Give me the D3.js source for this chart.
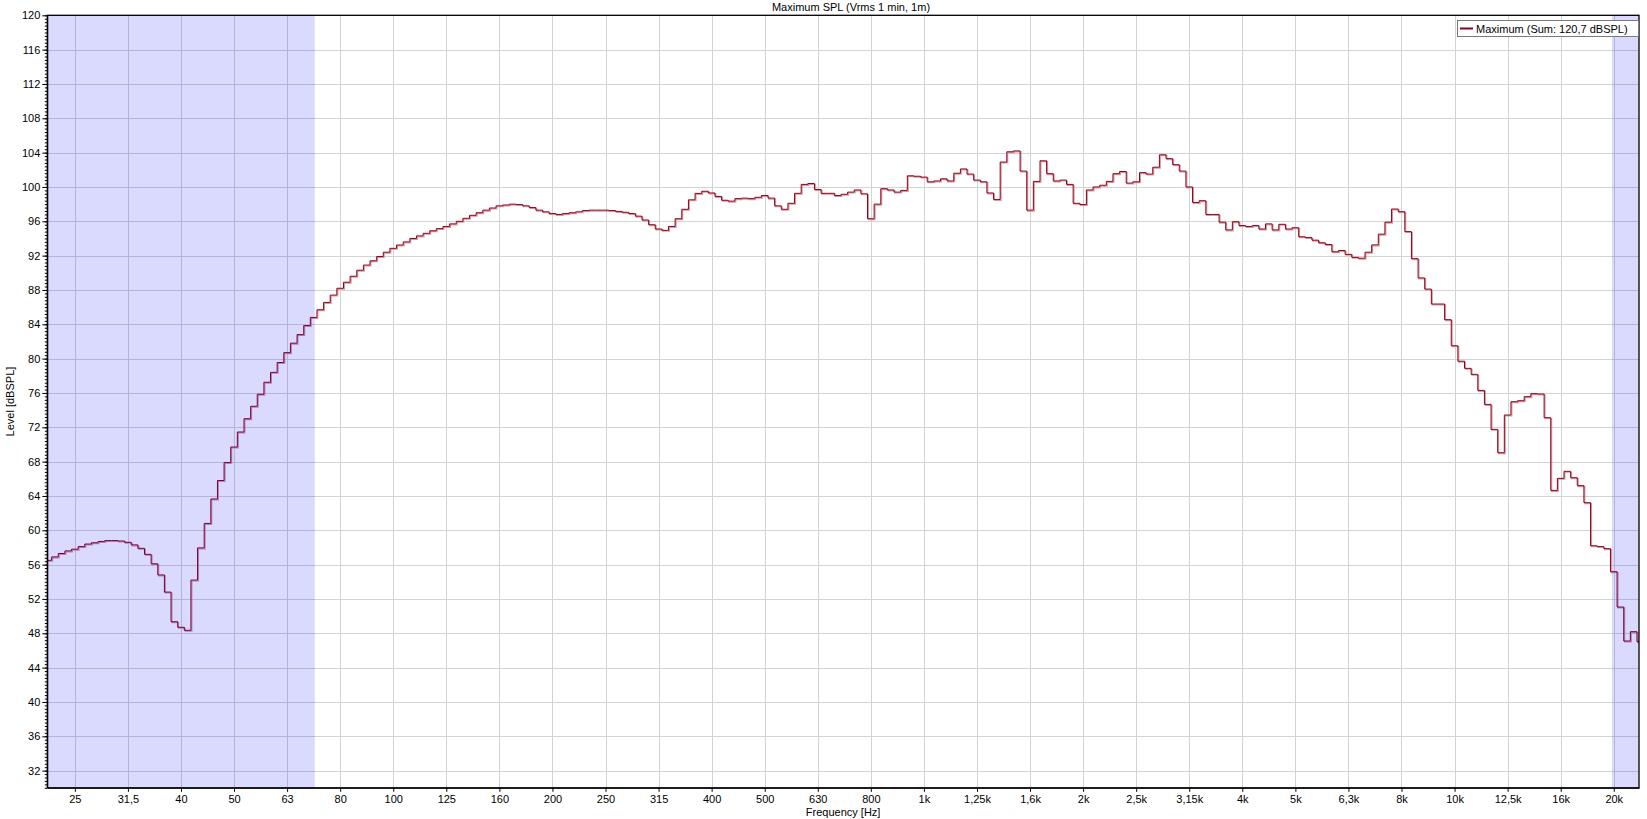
<!DOCTYPE html>
<html>
<meta charset="utf-8">
<head>
    <title>Maximum SPL</title>
    <script src="https://d3js.org/d3.v7.min.js" charset="utf-8"></script>
    <style>
    body { margin: 0; background: #fff; }
    text { font-family: "Liberation Sans", Arial, sans-serif; font-size: 11px; fill: #000; }
    </style>
</head>
<body>
    <script>

    // 1/24 octave bands, centre frequency = 1 kHz * 2^(n/24), n starts at firstBand
    var firstBand = -132;
    var bandsPerOctave = 24;

    // Maximum level per band [dBSPL]
    var levels = [
        56.5, 56.9, 57.3, 57.6, 57.8, 58.1, 58.4, 58.55, 58.7, 58.8, 58.8, 58.75,
        58.6, 58.3, 57.9, 57.2, 56.1, 54.8, 52.8, 49.35, 48.7, 48.35, 54.2, 57.95,
        60.8, 63.65, 65.8, 67.9, 69.7, 71.45, 73.0, 74.45, 75.85, 77.25, 78.4, 79.55,
        80.7, 81.8, 82.8, 83.85, 84.8, 85.7, 86.55, 87.4, 88.2, 88.9, 89.6, 90.3,
        90.9, 91.4, 91.9, 92.4, 92.85, 93.24, 93.6, 94.0, 94.3, 94.6, 94.9, 95.15,
        95.4, 95.7, 96.0, 96.35, 96.7, 97.0, 97.3, 97.55, 97.8, 97.9, 98.0, 97.95,
        97.8, 97.6, 97.3, 97.1, 96.9, 96.8, 96.9, 97.0, 97.1, 97.25, 97.3, 97.3,
        97.3, 97.25, 97.15, 97.05, 96.9, 96.6, 96.15, 95.6, 95.1, 94.95, 95.4, 96.3,
        97.4, 98.5, 99.25, 99.5, 99.3, 98.9, 98.45, 98.35, 98.64, 98.7, 98.64, 98.8,
        99.0, 98.7, 97.8, 97.4, 98.1, 99.26, 100.3, 100.4, 99.7, 99.26, 99.26, 99.0,
        99.15, 99.4, 99.65, 99.2, 96.3, 98.0, 99.8, 99.65, 99.4, 99.6, 101.3, 101.25,
        101.15, 100.6, 100.7, 100.95, 100.7, 101.6, 102.1, 101.5, 100.8, 100.6, 99.3, 98.55,
        102.9, 104.1, 104.2, 101.85, 97.3, 100.65, 103.05, 101.55, 100.7, 100.8, 100.3, 98.1,
        97.95, 99.65, 100.0, 100.2, 100.65, 101.55, 101.8, 100.45, 100.6, 101.67, 101.5, 102.3,
        103.75, 103.3, 102.6, 101.85, 100.0, 98.2, 98.4, 96.8, 96.8, 95.9, 95.0, 95.95,
        95.5, 95.4, 95.5, 95.1, 95.7, 95.0, 95.65, 95.1, 95.25, 94.2, 94.1, 93.8,
        93.5, 93.3, 92.45, 92.6, 92.15, 91.8, 91.7, 92.4, 93.25, 94.5, 95.9, 97.43,
        97.12, 94.8, 91.65, 89.4, 88.1, 86.36, 86.36, 84.54, 81.5, 79.7, 78.87, 78.17,
        76.3, 74.67, 71.76, 69.04, 73.43, 74.98, 75.1, 75.57, 75.92, 75.88, 73.12, 64.65,
        66.05, 66.87, 66.13, 65.2, 63.22, 58.2, 58.1, 57.86, 55.18, 51.06, 47.1, 48.19,
        47.02
    ];

    // x axis: third-octave ticks, index relative to 1 kHz
    var firstTick = -16;
    var xTickLabels = ["25", "31,5", "40", "50", "63", "80", "100", "125", "160", "200",
        "250", "315", "400", "500", "630", "800", "1k", "1,25k", "1,6k", "2k",
        "2,5k", "3,15k", "4k", "5k", "6,3k", "8k", "10k", "12,5k", "16k", "20k"];

    var yTickValues = [32, 36, 40, 44, 48, 52, 56, 60, 64, 68, 72, 76, 80, 84, 88,
        92, 96, 100, 104, 108, 112, 116, 120];

    // frequency ranges marked in blue
    var shadedRanges = [[22, 70.5], [20000, 22500]];

    var legendLabel = "Maximum (Sum: 120,7 dBSPL)";

    var width = 1647;
    var height = 819;
    var plotLeft = 47.3, plotRight = 1639, plotTop = 15.3, plotBottom = 787.8;

    var svg = d3.select("body")
        .append("svg")
        .attr("width", width)
        .attr("height", height);

    var x = d3.scaleLog()
        .domain([22, 22500])
        .range([plotLeft, plotRight]);

    var y = d3.scaleLinear()
        .domain([30, 120])
        .range([plotBottom, plotTop]);

    var tickFreqs = xTickLabels.map(function(d, i) {
        return 1000 * Math.pow(2, (firstTick + i) / 3);
    });

    // clip for plot area
    svg.append("clipPath").attr("id", "plot")
        .append("rect")
        .attr("x", plotLeft).attr("y", plotTop)
        .attr("width", plotRight - plotLeft).attr("height", plotBottom - plotTop);

    // grid
    var grid = svg.append("g").attr("stroke", "#d3d3d3").attr("stroke-width", 1);
    grid.selectAll(".vg")
        .data(tickFreqs)
        .enter().append("line")
        .attr("x1", function(d) { return Math.round(x(d)) + 0.5; })
        .attr("x2", function(d) { return Math.round(x(d)) + 0.5; })
        .attr("y1", plotTop).attr("y2", plotBottom);
    grid.selectAll(".hg")
        .data(yTickValues)
        .enter().append("line")
        .attr("x1", plotLeft).attr("x2", plotRight)
        .attr("y1", function(d) { return Math.round(y(d)) + 0.5; })
        .attr("y2", function(d) { return Math.round(y(d)) + 0.5; });

    // step curve built from band edges
    var points = levels.map(function(v, i) {
        var fc = 1000 * Math.pow(2, (firstBand + i) / bandsPerOctave);
        return [fc * Math.pow(2, -0.5 / bandsPerOctave), v];
    });
    var lastFc = 1000 * Math.pow(2, (firstBand + levels.length - 1) / bandsPerOctave);
    points.push([lastFc * Math.pow(2, 0.5 / bandsPerOctave), levels[levels.length - 1]]);

    var line = d3.line()
        .x(function(d) { return x(d[0]); })
        .y(function(d) { return y(d[1]); })
        .curve(d3.curveStepAfter);

    var curve = svg.append("g").attr("clip-path", "url(#plot)");
    curve.append("path")
        .datum(points)
        .attr("fill", "none")
        .attr("stroke", "#d49aa1")
        .attr("stroke-width", 1.2)
        .attr("transform", "translate(0.9,0.9)")
        .attr("d", line);
    curve.append("path")
        .datum(points)
        .attr("fill", "none")
        .attr("stroke", "#8c0018")
        .attr("stroke-width", 1)
        .attr("d", line);

    // shaded frequency ranges (drawn over grid and curve)
    svg.selectAll(".shade")
        .data(shadedRanges)
        .enter().append("rect")
        .attr("x", function(d) { return x(d[0]); })
        .attr("y", plotTop)
        .attr("width", function(d) { return x(d[1]) - x(d[0]); })
        .attr("height", plotBottom - plotTop)
        .attr("fill", "rgba(0,0,255,0.145)");

    // frame
    svg.append("rect")
        .attr("x", plotLeft).attr("y", plotTop)
        .attr("width", plotRight - plotLeft).attr("height", plotBottom - plotTop)
        .attr("fill", "none").attr("stroke", "#000").attr("stroke-width", 1.3);

    // axes
    var xAxis = d3.axisBottom(x)
        .tickValues(tickFreqs)
        .tickFormat(function(d, i) { return xTickLabels[i]; })
        .tickSize(4)
        .tickSizeOuter(0)
        .tickPadding(3);
    svg.append("g")
        .attr("transform", "translate(0," + plotBottom + ")")
        .call(xAxis);

    var yAxis = d3.axisLeft(y)
        .tickValues(yTickValues)
        .tickSize(5)
        .tickSizeOuter(0)
        .tickPadding(2);
    svg.append("g")
        .attr("transform", "translate(" + plotLeft + ",0)")
        .call(yAxis);

    var yMinor = d3.axisLeft(y)
        .tickValues(d3.range(30, 120.01, 0.4))
        .tickSize(2.5)
        .tickSizeOuter(0)
        .tickFormat("");
    svg.append("g")
        .attr("transform", "translate(" + plotLeft + ",0)")
        .call(yMinor)
        .select(".domain").remove();

    svg.selectAll(".tick text")
        .style("font-family", '"Liberation Sans", Arial, sans-serif')
        .style("font-size", "11px")
        .attr("fill", "#000");
    svg.selectAll(".tick line").attr("stroke", "#000");

    // titles
    svg.append("text")
        .attr("x", 851).attr("y", 11)
        .attr("text-anchor", "middle")
        .text("Maximum SPL (Vrms 1 min, 1m)");

    svg.append("text")
        .attr("x", (plotLeft + plotRight) / 2).attr("y", 816)
        .attr("text-anchor", "middle")
        .text("Frequency [Hz]");

    svg.append("text")
        .attr("transform", "translate(14," + ((plotTop + plotBottom) / 2) + ") rotate(-90)")
        .attr("text-anchor", "middle")
        .text("Level [dBSPL]");

    // legend
    var legend = svg.append("g").attr("transform", "translate(1457,20)");
    legend.append("rect")
        .attr("x", 0.5).attr("y", 0.5)
        .attr("width", 181).attr("height", 16)
        .attr("fill", "#fff").attr("stroke", "#7a7a7a");
    legend.append("line")
        .attr("x1", 3).attr("x2", 16)
        .attr("y1", 8.5).attr("y2", 8.5)
        .attr("stroke", "#8c0018").attr("stroke-width", 2);
    legend.append("text")
        .attr("x", 19).attr("y", 12.5)
        .text(legendLabel);

    </script>
</body>
</html>
